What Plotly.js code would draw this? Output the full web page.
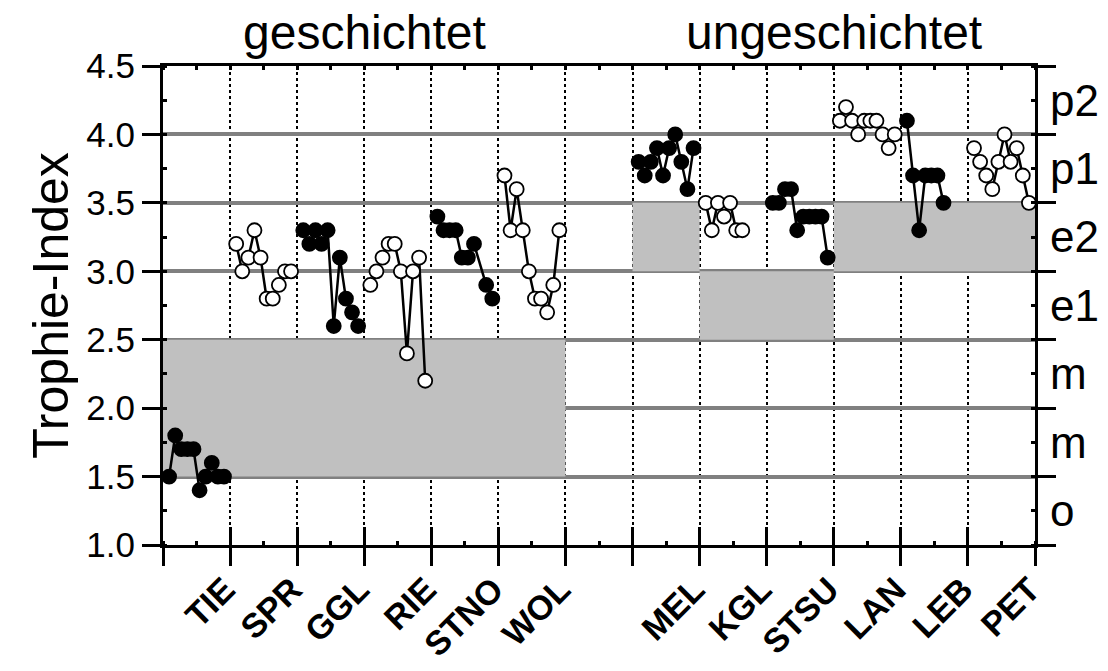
<!DOCTYPE html>
<html>
<head>
<meta charset="utf-8">
<script src="https://cdn.plot.ly/plotly-3.0.1.min.js"></script>
<style>html,body{margin:0;padding:0;background:#fff}#chart{width:1108px;height:671px}</style>
</head>
<body>
<div id="chart"></div>
<script>
// ---- data ----
const lakes = ['TIE','SPR','GGL','RIE','STNO','WOL','MEL','KGL','STSU','LAN','LEB','PET'];
const mixingGroups = ['geschichtet','ungeschichtet'];
const lakeGroup = [0,0,0,0,0,0,1,1,1,1,1,1];
const TIE  = [1.5,1.8,1.7,1.7,1.7,1.4,1.5,1.6,1.5,1.5];
const SPR  = [3.2,3.0,3.1,3.3,3.1,2.8,2.8,2.9,3.0,3.0];
const GGL  = [3.3,3.2,3.3,3.2,3.3,2.6,3.1,2.8,2.7,2.6];
const RIE  = [2.9,3.0,3.1,3.2,3.2,3.0,2.4,3.0,3.1,2.2];
const STNO = [3.4,3.3,3.3,3.3,3.1,3.1,3.2,null,2.9,2.8];
const WOL  = [3.7,3.3,3.6,3.3,3.0,2.8,2.8,2.7,2.9,3.3];
const MEL  = [3.8,3.7,3.8,3.9,3.7,3.9,4.0,3.8,3.6,3.9];
const KGL  = [3.5,3.3,3.5,3.4,3.5,3.3,3.3];
const STSU = [3.5,3.5,3.6,3.6,3.3,3.4,3.4,3.4,3.4,3.1];
const LAN  = [4.1,4.2,4.1,4.0,4.1,4.1,4.1,4.0,3.9,4.0];
const LEB  = [4.1,3.7,3.3,3.7,3.7,3.7,3.5];
const PET  = [3.9,3.8,3.7,3.6,3.8,4.0,3.8,3.9,3.7,3.5];
const lakeValues = [TIE,SPR,GGL,RIE,STNO,WOL,MEL,KGL,STSU,LAN,LEB,PET];
// reference (potential natural) trophic range per lake
const refLow  = [1.5,1.5,1.5,1.5,1.5,1.5,3.0,2.5,2.5,3.0,3.0,3.0];
const refHigh = [2.5,2.5,2.5,2.5,2.5,2.5,3.5,3.0,3.0,3.5,3.5,3.5];
const yTicks = [1.0,1.5,2.0,2.5,3.0,3.5,4.0,4.5];
const classLabels = ['o','m','m','e1','e2','p1','p2'];
const classCenters = [1.25,1.75,2.25,2.75,3.25,3.75,4.25];
const samplesPerSlot = 11;

// ---- layout helpers ----
const slotOf = i => i + lakeGroup[i]; // one empty slot between groups
const nSlots = slotOf(lakes.length - 1) + 1;
const font = 'Liberation Sans, Arial, sans-serif';

const traces = [];
// reference boxes (merged runs of equal range)
let bx = [], by = [];
let i = 0;
while (i < lakes.length) {
  let j = i;
  while (j + 1 < lakes.length && slotOf(j + 1) === slotOf(j) + 1 &&
         refLow[j + 1] === refLow[i] && refHigh[j + 1] === refHigh[i]) j++;
  const x0 = slotOf(i), x1 = slotOf(j) + 1;
  bx.push(x0, x1, x1, x0, x0, null);
  by.push(refLow[i], refLow[i], refHigh[i], refHigh[i], refLow[i], null);
  i = j + 1;
}
traces.push({x: bx, y: by, type: 'scatter', mode: 'lines', fill: 'toself',
  fillcolor: '#c0c0c0', line: {width: 0, color: '#c0c0c0'}, hoverinfo: 'skip', showlegend: false});

lakes.forEach((name, k) => {
  const vals = lakeValues[k];
  const xs = vals.map((v, n) => slotOf(k) + (n + 1) / samplesPerSlot);
  const filled = k % 2 === 0;
  traces.push({
    x: xs, y: vals, name: name, type: 'scatter', mode: 'lines+markers',
    connectgaps: true,
    line: {color: '#000', width: 2.5},
    marker: {size: 14, color: filled ? '#000' : '#fff', line: {color: '#000', width: 1.8}},
    showlegend: false
  });
});

const slotTicks = Array.from({length: nSlots + 1}, (_, s) => s);
const slotText = slotTicks.map(s => {
  const k = lakes.findIndex((_, idx) => slotOf(idx) + 1 === s);
  return k >= 0 ? lakes[k] : '';
});

const layout = {
  width: 1108, height: 671,
  margin: {l: 163, r: 73, t: 66, b: 126},
  paper_bgcolor: '#fff', plot_bgcolor: '#fff',
  font: {family: font, color: '#000'},
  xaxis: {
    range: [0, nSlots], showline: true, linecolor: '#000', linewidth: 3,
    tickmode: 'array', tickvals: slotTicks, ticktext: slotText,
    ticks: 'outside', ticklen: 18, tickwidth: 3, tickcolor: '#000',
    tickangle: -45, tickfont: {family: font, size: 34, weight: 'bold'},
    ticklabelshift: -5, ticklabelstandoff: -10,
    showgrid: true, gridcolor: '#000', gridwidth: 2, griddash: 'dot',
    minor: {ticks: 'inside', ticklen: 4, tickwidth: 3, tickcolor: '#000', dtick: 0.5, tick0: 0, showgrid: false},
    zeroline: false, fixedrange: true
  },
  xaxis2: {
    overlaying: 'x', anchor: 'y', side: 'bottom', range: [0, nSlots],
    tickmode: 'array', tickvals: slotTicks, ticks: 'inside', ticklen: 18, tickwidth: 3, tickcolor: '#000',
    showticklabels: false, showgrid: false, zeroline: false, showline: false
  },
  xaxis3: {
    overlaying: 'x', anchor: 'y', side: 'top', range: [0, nSlots],
    showline: true, linecolor: '#000', linewidth: 3,
    tickmode: 'array', tickvals: slotTicks, ticks: '', showticklabels: false,
    minor: {ticks: 'inside', ticklen: 4, tickwidth: 3, tickcolor: '#000', dtick: 0.5, tick0: 0.5, showgrid: false},
    showgrid: false, zeroline: false
  },
  yaxis: {
    range: [1, 4.5], showline: true, linecolor: '#000', linewidth: 3,
    tickmode: 'array', tickvals: yTicks, ticktext: yTicks.map(v => v.toFixed(1)),
    ticks: 'outside', ticklen: 18, tickwidth: 3, tickcolor: '#000',
    tickfont: {family: font, size: 35},
    showgrid: true, gridcolor: '#808080', gridwidth: 4,
    minor: {ticks: 'inside', ticklen: 4, tickwidth: 3, tickcolor: '#000', dtick: 0.25, tick0: 1, showgrid: false},
    zeroline: false,
    title: {text: 'Trophie-Index', font: {family: font, size: 50}, standoff: 2}
  },
  yaxis2: {
    overlaying: 'y', anchor: 'x', side: 'right', range: [1, 4.5],
    showline: true, linecolor: '#000', linewidth: 3,
    tickmode: 'array', tickvals: yTicks, ticks: 'outside', ticklen: 18, tickwidth: 3, tickcolor: '#000',
    showticklabels: false, showgrid: false, zeroline: false,
    minor: {ticks: 'inside', ticklen: 4, tickwidth: 3, tickcolor: '#000', dtick: 0.25, tick0: 1, showgrid: false}
  },
  yaxis3: {
    overlaying: 'y', anchor: 'x', side: 'right', range: [1, 4.5],
    tickmode: 'array', tickvals: classCenters, ticktext: classLabels, ticks: '',
    ticklabelstandoff: 14,
    tickfont: {family: font, size: 44}, showgrid: false, zeroline: false, showline: false
  },
  annotations: mixingGroups.map((g, gi) => {
    const idx = lakes.map((_, k) => k).filter(k => lakeGroup[k] === gi);
    const center = (slotOf(idx[0]) + slotOf(idx[idx.length - 1]) + 1) / 2;
    return {text: g, x: center, xref: 'x', y: 1.07, yref: 'paper', yanchor: 'middle',
            showarrow: false, font: {family: font, size: 48}};
  })
};

// dummy traces to activate overlay axes
traces.push({x: [null], y: [null], xaxis: 'x2', yaxis: 'y2', type: 'scatter', showlegend: false, hoverinfo: 'skip'});
traces.push({x: [null], y: [null], xaxis: 'x3', yaxis: 'y3', type: 'scatter', showlegend: false, hoverinfo: 'skip'});

Plotly.newPlot('chart', traces, layout, {displayModeBar: false, staticPlot: true});
</script>
</body>
</html>
